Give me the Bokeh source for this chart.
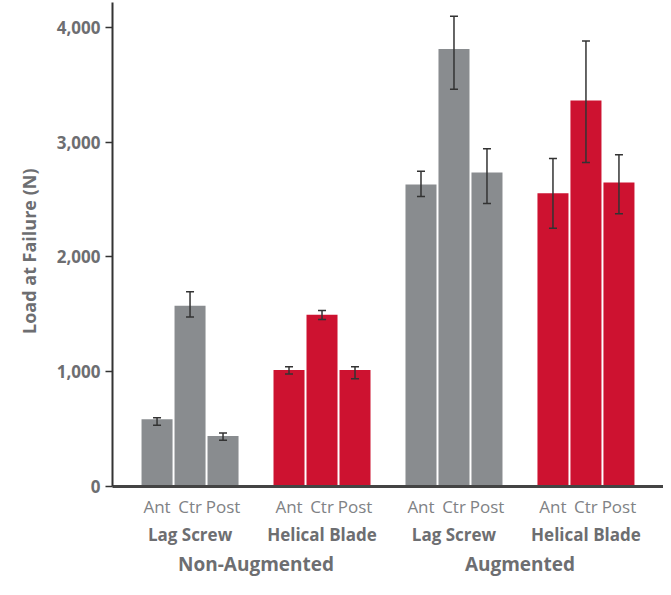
from bokeh.plotting import figure
from bokeh.models import (ColumnDataSource, FactorRange, Range1d, Whisker, TeeHead,
                          NumeralTickFormatter, FixedTicker, Title)
from bokeh.embed import file_html
from bokeh.resources import INLINE

augmentation = ["Non-Augmented", "Augmented"]
implants = ["Lag Screw", "Helical Blade"]
positions = ["Ant", "Ctr", "Post"]

# mean load at failure (N), per augmentation / implant / position
means = [587, 1574, 439,
         1015, 1497, 1015,
         2632, 3811, 2735,
         2555, 3363, 2649]
# error bar ends (N)
err_high = [599, 1697, 467,
            1043, 1534, 1043,
            2747, 4097, 2942,
            2858, 3882, 2890]
err_low = [533, 1477, 404,
           981, 1454, 938,
           2526, 3461, 2466,
           2251, 2822, 2377]
y_ticks = [0, 1000, 2000, 3000, 4000]

GRAY = "#898c8f"
RED = "#cd1230"
TEXT = "#6d6e71"
LIGHT = "#808285"
FONT = "Open Sans"

factors = [(a, i, p) for a in augmentation for i in implants for p in positions]
colors = [GRAY if f[1] == "Lag Screw" else RED for f in factors]

src = ColumnDataSource(dict(x=factors, top=means, color=colors,
                            upper=err_high, lower=err_low))

xr = FactorRange(*factors, factor_padding=0.0, subgroup_padding=1.0,
                 group_padding=1.0, range_padding=0.85, range_padding_units="absolute")

p = figure(x_range=xr, y_range=Range1d(0, 4217), width=663, height=579,
           output_backend="svg", toolbar_location=None,
           min_border_left=112, min_border_top=2, min_border_right=0,
           min_border_bottom=0)

p.vbar(x="x", top="top", width=0.94, color="color", source=src, line_color=None)

w = Whisker(source=src, base="x", upper="upper", lower="lower",
            line_color="#333333", line_width=1.5, level="overlay",
            upper_head=TeeHead(size=8, line_color="#333333", line_width=1.5),
            lower_head=TeeHead(size=8, line_color="#333333", line_width=1.5))
p.add_layout(w)

p.outline_line_color = None
p.grid.grid_line_color = None

ya = p.yaxis[0]
ya.ticker = FixedTicker(ticks=y_ticks)
ya.formatter = NumeralTickFormatter(format="0,0")
ya.major_label_text_font = FONT
ya.major_label_text_font_style = "bold"
ya.major_label_text_font_size = "17px"
ya.major_label_text_color = TEXT
ya.major_label_standoff = 5
ya.axis_line_color = "#333333"
ya.axis_line_width = 2
ya.major_tick_line_color = "#333333"
ya.major_tick_line_width = 1.5
ya.major_tick_out = 7
ya.major_tick_in = 0
ya.minor_tick_line_color = None

xa = p.xaxis[0]
xa.axis_line_color = "#444444"
xa.axis_line_width = 3
xa.major_tick_line_color = None
xa.minor_tick_line_color = None
xa.separator_line_color = None
xa.major_label_orientation = "horizontal"
xa.major_label_text_font = FONT
xa.major_label_text_font_size = "17px"
xa.major_label_text_color = LIGHT
xa.major_label_standoff = 2
xa.subgroup_text_font = FONT
xa.subgroup_text_font_style = "bold"
xa.subgroup_text_font_size = "17px"
xa.subgroup_text_color = TEXT
xa.group_text_font = FONT
xa.group_text_font_style = "bold"
xa.group_text_font_size = "19px"
xa.group_text_color = TEXT

# y-axis title, placed along the value scale
p.add_layout(Title(text="Load at Failure (N)", align="right", offset=166,
                   text_font=FONT, text_font_style="bold", text_font_size="18px",
                   text_color=TEXT, standoff=26), "left")

open("out.html", "w").write(file_html(p, INLINE))
